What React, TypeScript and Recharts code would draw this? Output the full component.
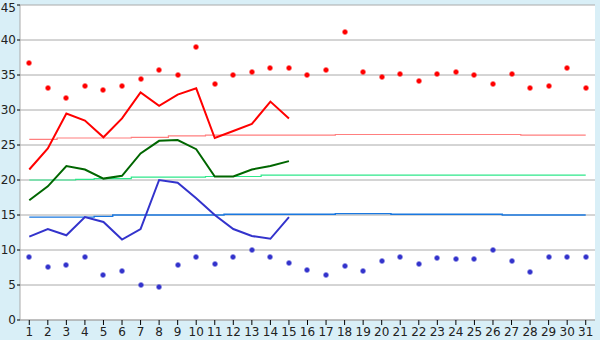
import { ComposedChart, Line, Scatter, XAxis, YAxis, CartesianGrid } from 'recharts';

const days = [1, 2, 3, 4, 5, 6, 7, 8, 9, 10, 11, 12, 13, 14, 15, 16, 17, 18, 19, 20, 21, 22, 23, 24, 25, 26, 27, 28, 29, 30, 31];

const maxDots = [36.7, 33.1, 31.7, 33.4, 32.8, 33.5, 34.4, 35.7, 35.0, 39.0, 33.7, 35.0, 35.5, 36.0, 36.0, 35.0, 35.7, 41.1, 35.4, 34.7, 35.2, 34.1, 35.2, 35.4, 35.0, 33.7, 35.1, 33.2, 33.5, 36.0, 33.2];
const minDots = [9.0, 7.6, 7.8, 9.0, 6.5, 7.0, 5.0, 4.7, 7.8, 9.0, 8.0, 9.0, 10.0, 9.0, 8.1, 7.1, 6.4, 7.7, 7.0, 8.4, 9.0, 8.0, 8.8, 8.7, 8.7, 10.0, 8.5, 6.8, 9.0, 9.0, 9.0];

const maxLine = [21.5, 24.5, 29.5, 28.5, 26.1, 28.8, 32.5, 30.6, 32.2, 33.1, 26.0, 27.0, 28.0, 31.2, 28.8];
const avgLine = [17.1, 19.1, 22.0, 21.5, 20.2, 20.6, 23.8, 25.6, 25.7, 24.4, 20.5, 20.5, 21.5, 22.0, 22.7];
const minLine = [11.9, 13.0, 12.1, 14.7, 14.0, 11.5, 13.0, 20.0, 19.6, 17.4, 15.0, 13.0, 12.0, 11.6, 14.7];

const maxNorm = [25.8, 25.8, 26.0, 26.0, 26.0, 26.0, 26.1, 26.1, 26.3, 26.3, 26.4, 26.4, 26.4, 26.4, 26.4, 26.4, 26.4, 26.5, 26.5, 26.5, 26.5, 26.5, 26.5, 26.5, 26.5, 26.5, 26.5, 26.4, 26.4, 26.4, 26.4];
const avgNorm = [20.0, 20.0, 20.0, 20.1, 20.2, 20.2, 20.4, 20.4, 20.4, 20.4, 20.5, 20.5, 20.5, 20.7, 20.7, 20.7, 20.7, 20.7, 20.7, 20.7, 20.7, 20.7, 20.7, 20.7, 20.7, 20.7, 20.7, 20.7, 20.7, 20.7, 20.7];
const minNorm = [14.7, 14.7, 14.7, 14.7, 14.8, 15.0, 15.0, 15.0, 15.0, 15.0, 15.0, 15.1, 15.1, 15.1, 15.1, 15.1, 15.1, 15.2, 15.2, 15.2, 15.1, 15.1, 15.1, 15.1, 15.1, 15.1, 15.0, 15.0, 15.0, 15.0, 15.0];

const yTicks = [0, 5, 10, 15, 20, 25, 30, 35, 40, 45];

const data = days.map((d, i) => ({
  day: d,
  maxDot: maxDots[i],
  minDot: minDots[i],
  maxLine: i < maxLine.length ? maxLine[i] : null,
  avgLine: i < avgLine.length ? avgLine[i] : null,
  minLine: i < minLine.length ? minLine[i] : null,
  maxNorm: maxNorm[i],
  avgNorm: avgNorm[i],
  minNorm: minNorm[i],
}));

// chunky 5px cross, like the old gif markers
function Mark(props: any) {
  const { cx, cy, fill } = props;
  if (cx == null || cy == null) return null;
  const x = Math.round(cx) - 2.5;
  const y = Math.round(cy) - 2.5;
  return (
    <path
      d={`M${x + 1},${y}h3v1h1v3h-1v1h-3v-1h-1v-3h1z`}
      fill={fill}
    />
  );
}

const tickStyle = { fontFamily: 'DejaVu Sans, Verdana, sans-serif', fontSize: 12, fill: '#222' };

export default function App() {
  return (
    <div style={{ width: 600, height: 340, background: '#D9EFF7' }}>
      <style>{'body{margin:0}'}</style>
      <ComposedChart width={600} height={340} data={data} margin={{ top: 5, right: 5, bottom: 0, left: 0 }}>
        <CartesianGrid vertical={false} stroke="#aaa" fill="#fff" />
        <XAxis
          dataKey="day"
          scale="band"
          interval={0}
          height={20}
          tick={tickStyle}
          tickSize={5}
          tickLine={{ stroke: '#000' }}
          axisLine={{ stroke: '#aaa' }}
        />
        <YAxis
          domain={[0, 45]}
          ticks={yTicks}
          width={20}
          tick={tickStyle}
          tickSize={3}
          tickMargin={1}
          tickLine={{ stroke: '#000' }}
          axisLine={{ stroke: '#aaa' }}
        />
        <YAxis yAxisId="r" orientation="right" width={0} tick={false} tickLine={false} axisLine={{ stroke: '#aaa' }} />
        <Line dataKey="maxNorm" type="step" stroke="#FF7F7F" strokeWidth={1.2} dot={false} isAnimationActive={false} />
        <Line dataKey="avgNorm" type="step" stroke="#2EE88A" strokeWidth={1.2} dot={false} isAnimationActive={false} />
        <Line dataKey="minNorm" type="step" stroke="#1A78E0" strokeWidth={1.4} dot={false} isAnimationActive={false} />
        <Line dataKey="maxLine" type="linear" stroke="#FF0000" strokeWidth={2} dot={false} isAnimationActive={false} />
        <Line dataKey="avgLine" type="linear" stroke="#006600" strokeWidth={2} dot={false} isAnimationActive={false} />
        <Line dataKey="minLine" type="linear" stroke="#3333CC" strokeWidth={2} dot={false} isAnimationActive={false} />
        <Scatter dataKey="maxDot" fill="#FF0000" shape={Mark} isAnimationActive={false} />
        <Scatter dataKey="minDot" fill="#3333CC" shape={Mark} isAnimationActive={false} />
      </ComposedChart>
    </div>
  );
}
